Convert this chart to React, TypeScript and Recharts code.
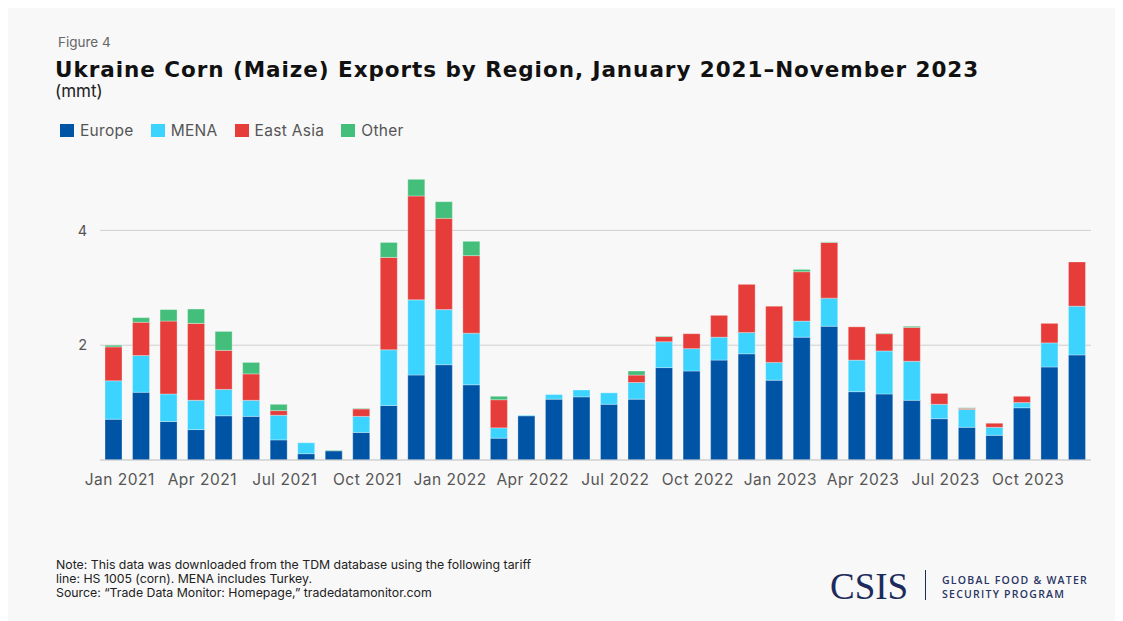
import { BarChart, Bar, XAxis, YAxis, CartesianGrid, Legend, ReferenceLine } from 'recharts';

const months = [
  'Jan 2021', 'Feb 2021', 'Mar 2021', 'Apr 2021', 'May 2021', 'Jun 2021',
  'Jul 2021', 'Aug 2021', 'Sep 2021', 'Oct 2021', 'Nov 2021', 'Dec 2021',
  'Jan 2022', 'Feb 2022', 'Mar 2022', 'Apr 2022', 'May 2022', 'Jun 2022',
  'Jul 2022', 'Aug 2022', 'Sep 2022', 'Oct 2022', 'Nov 2022', 'Dec 2022',
  'Jan 2023', 'Feb 2023', 'Mar 2023', 'Apr 2023', 'May 2023', 'Jun 2023',
  'Jul 2023', 'Aug 2023', 'Sep 2023', 'Oct 2023', 'Nov 2023', 'Dec 2023'
];

// mmt per month
const europe = [
  0.71, 1.18, 0.67, 0.53, 0.77, 0.76, 0.35, 0.11, 0.16, 0.48, 0.95, 1.48,
  1.66, 1.31, 0.38, 0.77, 1.06, 1.10, 0.97, 1.06, 1.61, 1.55, 1.74, 1.85,
  1.39, 2.14, 2.33, 1.19, 1.15, 1.04, 0.72, 0.57, 0.43, 0.91, 1.62, 1.83
];
const mena = [
  0.67, 0.64, 0.48, 0.51, 0.46, 0.28, 0.43, 0.19, 0, 0.28, 0.97, 1.31,
  0.96, 0.90, 0.18, 0.01, 0.08, 0.12, 0.20, 0.29, 0.45, 0.39, 0.40, 0.37,
  0.31, 0.28, 0.49, 0.55, 0.75, 0.68, 0.25, 0.31, 0.14, 0.09, 0.42, 0.85
];
const eastAsia = [
  0.59, 0.58, 1.27, 1.34, 0.68, 0.46, 0.08, 0, 0, 0.13, 1.61, 1.81,
  1.59, 1.35, 0.49, 0, 0, 0, 0, 0.13, 0.09, 0.26, 0.38, 0.84,
  0.98, 0.86, 0.97, 0.58, 0.30, 0.59, 0.19, 0.02, 0.07, 0.11, 0.34, 0.77
];
const other = [
  0.03, 0.08, 0.20, 0.25, 0.33, 0.20, 0.11, 0, 0.01, 0.01, 0.26, 0.29,
  0.29, 0.25, 0.06, 0, 0, 0, 0, 0.07, 0.01, 0, 0, 0,
  0, 0.04, 0.01, 0, 0.01, 0.02, 0, 0.01, 0, 0, 0, 0
];

const yTicks = [0, 2, 4];

const data = months.map((m, i) => ({
  month: m,
  Europe: europe[i],
  MENA: mena[i],
  'East Asia': eastAsia[i],
  Other: other[i]
}));

const series = [
  { key: 'Europe', color: '#0054a6' },
  { key: 'MENA', color: '#3cd4ff' },
  { key: 'East Asia', color: '#e63d3a' },
  { key: 'Other', color: '#43bf7b' }
];

const font = 'Inter, "Noto Sans", sans-serif';

const LegendRow = ({ payload }: any) => {
  const items = series
    .map((s) => (payload || []).find((p: any) => p.dataKey === s.key || p.value === s.key))
    .filter(Boolean);
  return (
    <div style={{ display: 'flex', alignItems: 'center', fontFamily: font, fontSize: 15.5, color: '#555', letterSpacing: 0.3 }}>
      {items.map((p: any) => (
        <div key={p.value} style={{ display: 'flex', alignItems: 'center', marginRight: 17 }}>
          <span style={{ width: 14, height: 13, background: p.color, display: 'inline-block', marginRight: 6 }} />
          <span>{p.value}</span>
        </div>
      ))}
    </div>
  );
};

const App = () => {
  return (
    <div style={{ position: 'relative', width: 1115, height: 613, background: '#f8f8f8', overflow: 'hidden' }}>
      <div style={{ position: 'absolute', left: 50, top: 28, fontFamily: font, fontSize: 13.5, lineHeight: 1, color: '#666' }}>
        Figure 4
      </div>
      <div style={{ position: 'absolute', left: 47, top: 51, fontFamily: '"DejaVu Sans", sans-serif', fontWeight: 'bold', fontSize: 21.5, letterSpacing: 0.95, lineHeight: 1, color: '#111', whiteSpace: 'nowrap' }}>
        Ukraine Corn (Maize) Exports by Region, January 2021–November 2023
      </div>
      <div style={{ position: 'absolute', left: 47, top: 75, fontFamily: font, fontSize: 17, lineHeight: 1, color: '#222' }}>
        (mmt)
      </div>

      <div style={{ position: 'absolute', left: 0, top: 0 }}>
        <BarChart
          width={1115}
          height={490}
          data={data}
          margin={{ top: 165, right: 32, left: 52, bottom: 8 }}
          barSize={17}
          style={{ fontFamily: font }}
        >
          <CartesianGrid vertical={false} stroke="#cfcfcf" horizontalValues={yTicks} />
          <ReferenceLine y={0} stroke="#cfcfcf" />
          <XAxis
            dataKey="month"
            interval={2}
            tickLine={false}
            axisLine={false}
            tickSize={6}
            tickMargin={8}
            height={30}
            tick={{ fontSize: 15.5, fill: '#555', letterSpacing: 0.5, dx: 6 }}
          />
          <YAxis
            domain={[0, 5]}
            ticks={yTicks}
            tickFormatter={(v: number) => (v === 0 ? '' : String(v))}
            tickLine={false}
            axisLine={false}
            tickSize={6}
            tickMargin={7}
            width={40}
            tick={{ fontSize: 14.5, fill: '#555' }}
          />
          <Legend
            layout="horizontal"
            verticalAlign="middle"
            align="center"
            wrapperStyle={{ top: 113, left: 52, width: 'auto' }}
            content={LegendRow}
          />
          {series.map((s) => (
            <Bar
              key={s.key}
              dataKey={s.key}
              stackId="a"
              fill={s.color}
              stroke="#ffffff"
              strokeOpacity={0.5}
              strokeWidth={0.6}
              isAnimationActive={false}
            />
          ))}
        </BarChart>
      </div>

      <div style={{ position: 'absolute', left: 48, top: 550, fontFamily: font, fontSize: 12.3, lineHeight: '14px', color: '#222' }}>
        <div>Note: This data was downloaded from the TDM database using the following tariff</div>
        <div>line: HS 1005 (corn). MENA includes Turkey.</div>
        <div>Source: “Trade Data Monitor: Homepage,” tradedatamonitor.com</div>
      </div>

      <div style={{ position: 'absolute', left: 822, top: 560, fontFamily: '"Liberation Serif", serif', fontSize: 37, lineHeight: 1, color: '#1d2b5c' }}>
        CSIS
      </div>
      <div style={{ position: 'absolute', left: 917, top: 562, width: 1, height: 30, background: '#1d2b5c' }} />
      <div style={{ position: 'absolute', left: 934, top: 565, fontFamily: '"Open Sans", sans-serif', fontWeight: 600, fontSize: 10.5, lineHeight: '14px', letterSpacing: 1.25, color: '#2a3563' }}>
        <div>GLOBAL FOOD &amp; WATER</div>
        <div>SECURITY PROGRAM</div>
      </div>
    </div>
  );
};

export default App;
